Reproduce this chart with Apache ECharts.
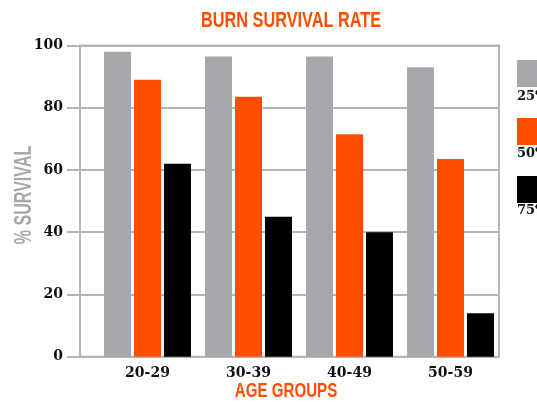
<!DOCTYPE html>
<html>
<head>
<meta charset="utf-8">
<script src="https://cdn.jsdelivr.net/npm/echarts@6/dist/echarts.min.js"></script>
<style>
  html, body { margin: 0; padding: 0; background: #fff; }
  #chart { width: 537px; height: 402px; }
</style>
</head>
<body>
<div id="chart"></div>
<script>
  // data
  const ageGroups = ['20-29', '30-39', '40-49', '50-59']
  const seriesNames = ['25%', '50%', '75%']
  const burn25 = [98, 96.5, 96.5, 93]
  const burn50 = [89, 83.5, 71.5, 63.5]
  const burn75 = [62, 45, 40, 14]
  const seriesValues = [burn25, burn50, burn75]
  const yMin = 0
  const yMax = 100
  const yStep = 20

  const colors = ['#a7a8ab', '#ff4e00', '#000000']
  const lineGrey = '#b4b5b8'
  const sans = '"Liberation Sans", Arial, sans-serif'
  const slab = '"DejaVu Serif", serif'

  const chart = echarts.init(document.getElementById('chart'))

  // condensed headline text: no narrow font installed, so squeeze it
  function squeezed(text, x, y, size, color, sx, rot) {
    return {
      type: 'text',
      x: x,
      y: y,
      rotation: rot || 0,
      scaleX: sx,
      style: {
        text: text,
        fill: color,
        font: 'bold ' + size + 'px ' + sans,
        align: 'center',
        verticalAlign: 'middle'
      }
    }
  }

  const option = {
    animation: false,
    color: colors,
    legend: {
      orient: 'vertical',
      left: 517,
      top: 60,
      padding: 0,
      icon: 'rect',
      itemWidth: 27,
      itemHeight: 27,
      itemGap: 31,
      data: seriesNames,
      formatter: () => '',
      selectedMode: false
    },
    grid: [
      // frame, grid lines and y labels
      { left: 80, right: 38, top: 45.5, bottom: 45.3, show: true, borderColor: lineGrey, borderWidth: 2, outerBoundsMode: 'none' },
      // bars
      { left: 97, right: 36, top: 45.5, bottom: 45.3, outerBoundsMode: 'none' }
    ],
    xAxis: [
      { gridIndex: 0, type: 'value', show: false },
      {
        gridIndex: 1,
        type: 'category',
        data: ageGroups,
        axisLine: { show: false },
        axisTick: { show: false },
        axisLabel: { color: '#111', fontFamily: slab, fontWeight: 'bold', fontSize: 14, margin: 10 }
      }
    ],
    yAxis: [
      {
        gridIndex: 0,
        type: 'value',
        min: yMin,
        max: yMax,
        interval: yStep,
        axisLine: { show: false },
        axisTick: { show: true, length: 13, lineStyle: { color: lineGrey, width: 2 } },
        splitLine: { lineStyle: { color: lineGrey, width: 2 } },
        axisLabel: { color: '#111', fontFamily: slab, fontWeight: 'bold', fontSize: 14, margin: 17 }
      },
      { gridIndex: 1, type: 'value', min: yMin, max: yMax, show: false }
    ],
    series: seriesNames.map((name, i) => ({
      name: name,
      type: 'bar',
      xAxisIndex: 1,
      yAxisIndex: 1,
      barWidth: 27,
      barGap: '11%',
      data: seriesValues[i]
    })),
    graphic: [
      squeezed('BURN SURVIVAL RATE', 291, 21, 22, '#ff4e00', 0.74),
      squeezed('AGE GROUPS', 286, 391.5, 21, '#ff4e00', 0.72),
      squeezed('% SURVIVAL', 24, 195, 24, '#a7a8ab', 0.67, Math.PI / 2)
    ].concat(seriesNames.map((name, i) => ({
      type: 'text',
      left: 517,
      top: 90 + i * 57,
      style: { text: name, fill: '#111', font: 'bold 13px ' + slab }
    })))
  }

  chart.setOption(option)
</script>
</body>
</html>
